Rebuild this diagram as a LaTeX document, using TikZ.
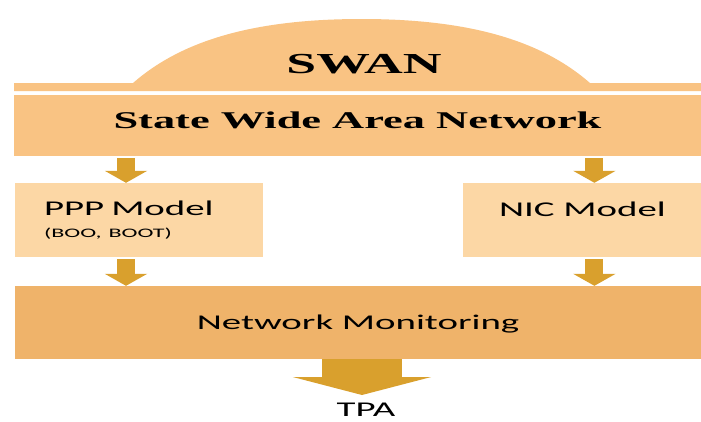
\documentclass[tikz,border=0pt]{standalone}
\usepackage{fontspec}
\setmainfont[FakeStretch=1.85]{Liberation Serif}
\newfontfamily\swansans[FakeStretch=1.85]{Carlito}
\usepackage{tikz}
\usetikzlibrary{arrows.meta,positioning}

\definecolor{wanfill}{RGB}{249,195,131}
\definecolor{modelfill}{RGB}{252,215,165}
\definecolor{monfill}{RGB}{239,179,106}
\definecolor{arrowgold}{RGB}{217,160,45}

\begin{document}
\begin{tikzpicture}[
        x=1pt, y=-1pt,
        band/.style={fill=wanfill, rectangle, inner sep=0pt, minimum width=687pt},
        box/.style={fill=modelfill, rectangle, inner sep=0pt, minimum height=74pt},
        sans/.style={font=\swansans\fontsize{21}{24}\selectfont},
        smallarrow/.style={arrowgold, line width=18pt, -{Triangle[width=42pt, length=12pt]}},
        bigarrow/.style={arrowgold, line width=80pt, -{Triangle[width=138pt, length=18pt]}}
    ]
        \useasboundingbox (0,0) rectangle (701,421);

        % Dome
        \fill[wanfill] (14,91) -- (14,83) -- (133,83) .. controls (180,42) and (250,19) .. (361.5,19)
            .. controls (473,19) and (543,42) .. (590,83) -- (701,83) -- (701,91) -- cycle;
        \node[font=\bfseries\fontsize{29}{31}\selectfont, anchor=base] (swan) at (364,73) {SWAN};

        % Wide area network
        \node[band, minimum height=61pt, text height=16pt, text depth=11pt,
              font=\bfseries\fontsize{24}{28}\selectfont] (wan) at (357.5,125.5) {State Wide Area Network};

        % Models
        \node[box, sans, minimum width=248pt, text width=190pt, inner xsep=29pt, align=left] (ppp) at (139,220)
            {PPP Model\\[-2pt]{\fontsize{13}{15}\selectfont (BOO, BOOT)}};
        \node[box, sans, right=200pt of ppp, minimum width=238pt, text height=13.5pt, text depth=20pt] (nic) {NIC Model};

        % Monitoring
        \node[band, sans, fill=monfill, minimum height=73pt, text height=13.5pt, text depth=0pt] (mon) at (358,322.5) {Network Monitoring};

        % Output
        \node[sans, anchor=base, inner sep=0pt] (tpa) at (366,416.5) {TPA};
        \coordinate (tip) at (362,395);

        % Connections
        \draw[smallarrow, shorten <=2pt] ([xshift=-13pt]ppp.north |- wan.south) -- ([xshift=-13pt]ppp.north);
        \draw[smallarrow, shorten <=2pt] ([xshift=12pt]nic.north |- wan.south) -- ([xshift=12pt]nic.north);
        \draw[smallarrow, shorten <=2pt] ([xshift=-13pt]ppp.south) -- ([xshift=-13pt]ppp.south |- mon.north);
        \draw[smallarrow, shorten <=2pt] ([xshift=12pt]nic.south) -- ([xshift=12pt]nic.south |- mon.north);
        \draw[bigarrow] (tip |- mon.south) -- (tip);

    \end{tikzpicture}
\end{document}
